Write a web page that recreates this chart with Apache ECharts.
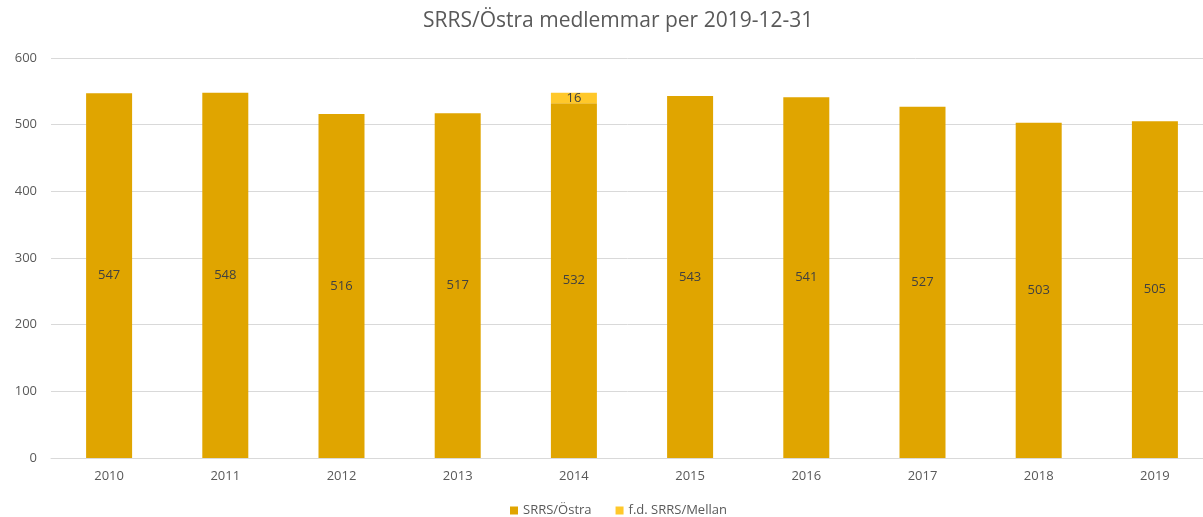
<!DOCTYPE html>
<html>
<head>
<meta charset="utf-8">
<script src="https://cdn.jsdelivr.net/npm/echarts@6/dist/echarts.min.js"></script>
<style>
  html, body { margin: 0; padding: 0; background: #fff; }
  #chart { width: 1203px; height: 517px; }
</style>
</head>
<body>
<div id="chart"></div>
<script>
// data
const years = ['2010', '2011', '2012', '2013', '2014', '2015', '2016', '2017', '2018', '2019'];
const ostra = [547, 548, 516, 517, 532, 543, 541, 527, 503, 505];
const mellan = [null, null, null, null, 16, null, null, null, null, null];
const yTicks = { min: 0, max: 600, interval: 100 };

const txt = '#595959';
const font = '"Open Sans", "Noto Sans", sans-serif';

const chart = echarts.init(document.getElementById('chart'));
chart.setOption({
  animation: false,
  textStyle: { fontFamily: font },
  title: {
    text: 'SRRS/Östra medlemmar per 2019-12-31',
    left: 418, top: 6,
    textStyle: { color: txt, fontSize: 21, fontWeight: 'normal', fontFamily: font }
  },
  legend: {
    top: 499, left: 505,
    itemWidth: 8, itemHeight: 8, itemGap: 24, icon: 'rect',
    textStyle: { color: txt, fontSize: 13, fontFamily: font },
    data: ['SRRS/Östra', 'f.d. SRRS/Mellan']
  },
  grid: { left: 51, top: 58, width: 1162, height: 400, containLabel: false, outerBoundsMode: 'none' },
  xAxis: {
    type: 'category', data: years,
    axisLine: { lineStyle: { color: '#d9d9d9' } },
    axisTick: { show: false },
    axisLabel: { color: txt, fontSize: 13, margin: 12 }
  },
  yAxis: {
    type: 'value', min: yTicks.min, max: yTicks.max, interval: yTicks.interval,
    axisLine: { show: false }, axisTick: { show: false },
    axisLabel: { color: txt, fontSize: 13, margin: 14 },
    splitLine: { lineStyle: { color: '#d9d9d9' } }
  },
  series: [
    {
      name: 'SRRS/Östra', type: 'bar', stack: 'a', data: ostra, barWidth: 46,
      itemStyle: { color: '#e0a500' },
      label: { show: true, position: 'inside', color: '#404040', fontSize: 13 }
    },
    {
      name: 'f.d. SRRS/Mellan', type: 'bar', stack: 'a', data: mellan, barWidth: 46,
      itemStyle: { color: '#ffc82a' },
      label: { show: true, position: 'inside', color: '#404040', fontSize: 13 }
    }
  ]
});
</script>
</body>
</html>
